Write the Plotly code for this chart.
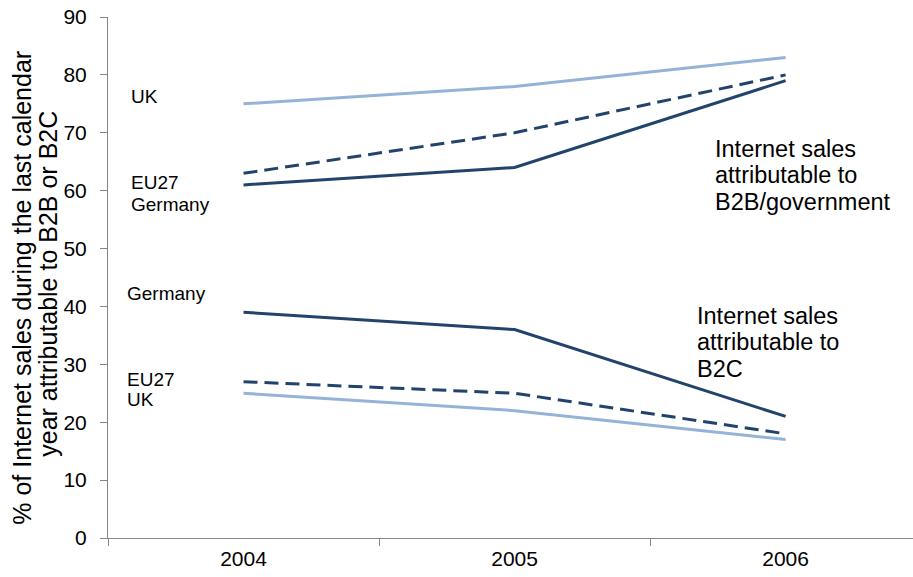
import plotly.graph_objects as go

# Survey years (category axis)
years = ["2004", "2005", "2006"]

# Share of internet sales attributable to B2B / government (%)
b2b_uk = [75, 78, 83]
b2b_eu27 = [63, 70, 80]
b2b_germany = [61, 64, 79]

# Share of internet sales attributable to B2C (%)
b2c_germany = [39, 36, 21]
b2c_eu27 = [27, 25, 18]
b2c_uk = [25, 22, 17]

y_ticks = [0, 10, 20, 30, 40, 50, 60, 70, 80, 90]

DARK = "#22436B"
LIGHT = "#95B3D7"
FONT = "Liberation Sans, Arial, sans-serif"

series = [
    (b2b_uk, LIGHT, "solid"),
    (b2b_eu27, DARK, "14px,7px"),
    (b2b_germany, DARK, "solid"),
    (b2c_germany, DARK, "solid"),
    (b2c_eu27, DARK, "14px,7px"),
    (b2c_uk, LIGHT, "solid"),
]

fig = go.Figure()
for values, color, dash in series:
    fig.add_trace(go.Scatter(
        x=years, y=values, mode="lines",
        line=dict(color=color, width=3, dash=dash),
        showlegend=False, hoverinfo="skip",
    ))

annotations = []

PLOT_LEFT, PLOT_TOP, PLOT_W, PLOT_H = 108, 17, 805, 521.5


def to_paper(px, py):
    return (px - PLOT_LEFT) / PLOT_W, 1 - (py - PLOT_TOP) / PLOT_H


# Country labels to the left of the lines
country_labels = [
    ("UK", 129, 97),
    ("EU27", 129, 183),
    ("Germany", 129, 205),
    ("Germany", 125, 294),
    ("EU27", 125, 380),
    ("UK", 125, 400),
]
for text, px, py in country_labels:
    x, y = to_paper(px, py)
    annotations.append(dict(
        text=text, xref="paper", yref="paper", x=x, y=y,
        xanchor="left", yanchor="middle", showarrow=False,
        font=dict(family=FONT, size=19, color="#000000"),
    ))

# Group captions, one annotation per line for tight line spacing
captions = [
    (["Internet sales", "attributable to", "B2B/government"], 713, 149),
    (["Internet sales", "attributable to", "B2C"], 695, 316),
]
for lines, px, py0 in captions:
    for i, line in enumerate(lines):
        x, y = to_paper(px, py0 + i * 26.5)
        annotations.append(dict(
            text=line, xref="paper", yref="paper", x=x, y=y,
            xanchor="left", yanchor="middle", showarrow=False,
            font=dict(family=FONT, size=23.5, color="#000000"),
        ))

# Y axis title, two rotated lines
title_lines = [
    ("% of Internet sales during the last calendar", 22, 288),
    ("year attributable to B2B or B2C", 48, 284),
]
for text, px, py in title_lines:
    x, y = to_paper(px, py)
    annotations.append(dict(
        text=text, xref="paper", yref="paper", x=x, y=y,
        xanchor="center", yanchor="middle", textangle=-90, showarrow=False,
        font=dict(family=FONT, size=25, color="#000000"),
    ))

fig.update_layout(
    width=913, height=577,
    margin=dict(l=108, r=0, t=17, b=39),
    paper_bgcolor="white", plot_bgcolor="white",
    annotations=annotations,
    xaxis=dict(
        type="category", range=[-0.5, 2.47],
        showline=True, linecolor="#868686", linewidth=1,
        ticks="outside", tickson="boundaries", ticklen=7, tickcolor="#868686",
        showgrid=False, zeroline=False,
        tickfont=dict(family=FONT, size=21, color="#000000"),
        ticklabelstandoff=2,
    ),
    yaxis=dict(
        range=[0, 90], tickvals=y_ticks,
        showline=True, linecolor="#868686", linewidth=1,
        ticks="outside", ticklen=7, tickcolor="#868686",
        showgrid=False, zeroline=False,
        tickfont=dict(family=FONT, size=21, color="#000000"),
        ticklabelstandoff=9,
    ),
)

fig.write_html("out.html")
